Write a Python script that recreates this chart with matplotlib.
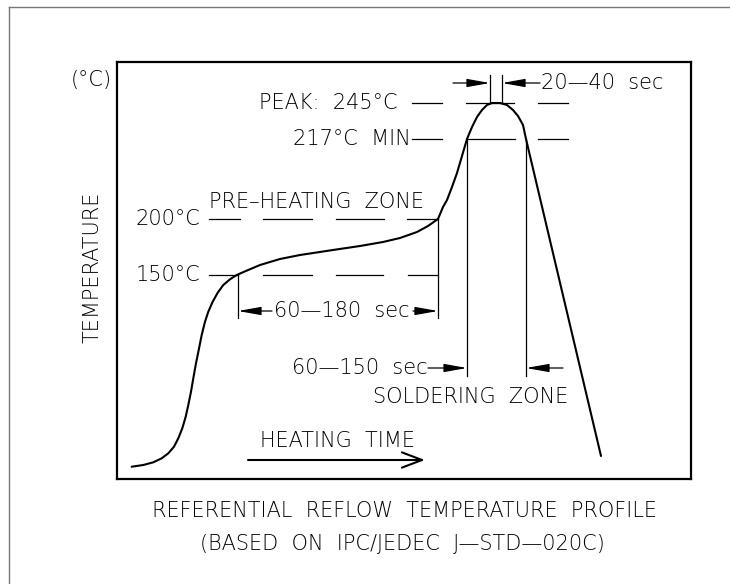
import numpy as np
import matplotlib.pyplot as plt
from matplotlib.lines import Line2D

plt.rcParams['font.family'] = ['DejaVu Sans']

# reflow profile (drawing units: x to the right, y downward)
curve_x = [131.7, 143.3, 153.3, 161.7, 168.3, 174, 178.3, 182.3, 185.7, 188.3,
           191, 193.3, 196, 198.7, 201.7, 205, 208.3, 212.7, 217.7, 223.3, 230,
           236.7, 247, 260, 280, 300, 333, 360, 383, 400, 417, 428, 438, 443,
           447, 452, 457, 462, 467, 472, 477, 482, 487, 492, 500, 507, 513, 518,
           523, 526, 601]
curve_y = [466.7, 465, 462.3, 458.3, 453.3, 446.7, 438.3, 428.3, 416.7, 405,
           391.7, 378.3, 363.3, 350, 335, 321.7, 311.7, 301.7, 292.7, 285, 279.3,
           275, 270.5, 265, 259, 255, 250, 246, 242, 238, 232, 226, 219, 207,
           200, 187, 173, 156, 139, 127, 117, 110, 105, 103, 103, 105, 110, 116,
           125, 139, 456]

# temperature levels and where they sit on the drawing
level_names = ['PEAK:  245°C', '217°C  MIN', '200°C', '150°C']
level_y = [103, 139, 219, 275]

caption = ['REFERENTIAL  REFLOW  TEMPERATURE  PROFILE',
           '(BASED  ON  IPC/JEDEC  J—STD—020C)']

fs = 15
fw = 'light'
lw_guide = 0.9

fig = plt.figure(figsize=(7.3, 5.84), dpi=100)
ax = fig.add_axes([117/730, (584-479)/584, 574/730, 417/584])
ax.set_xlim(117, 691)
ax.set_ylim(479, 62)
ax.set_xticks([])
ax.set_yticks([])
for s in ax.spines.values():
    s.set_linewidth(1.6)

# outer frame (only top and left are visible)
fig.add_artist(Line2D([9/730, 9/730], [0, 1-7/584], transform=fig.transFigure,
                      color='#777777', lw=1))
fig.add_artist(Line2D([9/730, 1], [1-7/584, 1-7/584], transform=fig.transFigure,
                      color='#777777', lw=1))

ax.plot(curve_x, curve_y, color='black', lw=1.5, solid_joinstyle='round',
        solid_capstyle='round')

# dashed level lines
dashes = {
    0: [(412, 442), (466, 514), (538, 568)],
    1: [(412, 442), (467, 515), (538, 568)],
    2: [(209, 240), (263, 312), (336, 384), (407, 438)],
    3: [(209, 238), (263, 312), (336, 383), (408, 438)],
}
for i, segs in dashes.items():
    for a, b in segs:
        ax.plot([a, b], [level_y[i], level_y[i]], color='black', lw=lw_guide)

# level labels
ax.text(398, level_y[0], level_names[0], fontsize=fs, fontweight=fw, ha='right', va='center')
ax.text(411, level_y[1], level_names[1], fontsize=fs, fontweight=fw, ha='right', va='center')
ax.text(200, level_y[2], level_names[2], fontsize=fs, fontweight=fw, ha='right', va='center')
ax.text(200, level_y[3], level_names[3], fontsize=fs, fontweight=fw, ha='right', va='center')
ax.text(209, 202, 'PRE–HEATING  ZONE', fontsize=fs, fontweight=fw, ha='left', va='center')

# vertical extension lines
vlines = [(238, level_y[3], 318), (438, level_y[2], 318),
          (467, level_y[1], 376), (526, level_y[1], 376),
          (490, 75, level_y[0]), (502, 75, level_y[0])]
for x, y0, y1 in vlines:
    ax.plot([x, x], [y0, y1], color='black', lw=lw_guide)


def dim_arrow(x0, y0, x1, y1):
    ax.annotate('', xy=(x1, y1), xytext=(x0, y0),
                arrowprops=dict(arrowstyle='-|>,head_length=1.4,head_width=0.25',
                                mutation_scale=10, color='black', lw=lw_guide,
                                shrinkA=0, shrinkB=0))


# 60-180 sec
dim_arrow(272, 311, 238, 311)
dim_arrow(413, 311, 438, 311)
ax.text(342, 311, '60—180  sec', fontsize=fs, fontweight=fw, ha='center', va='center')
# 60-150 sec
dim_arrow(428, 368, 467, 368)
dim_arrow(563, 368, 526, 368)
ax.text(428, 368, '60—150  sec', fontsize=fs, fontweight=fw, ha='right', va='center')
ax.text(568, 397, 'SOLDERING  ZONE', fontsize=fs, fontweight=fw, ha='right', va='center')
# 20-40 sec
dim_arrow(453, 83, 490, 83)
dim_arrow(540, 83, 502, 83)
ax.text(541, 83, '20—40  sec', fontsize=fs, fontweight=fw, ha='left', va='center')

# heating time arrow
ax.text(337, 441, 'HEATING  TIME', fontsize=fs, fontweight=fw, ha='center', va='center')
ax.annotate('', xy=(425, 460), xytext=(248, 460),
            arrowprops=dict(arrowstyle='->,head_length=1.45,head_width=0.55',
                            mutation_scale=10, color='black', lw=1.5,
                            shrinkA=0, shrinkB=0))

# axis labels outside the box
ax.text(112, 80, '(°C)', fontsize=fs, fontweight=fw, ha='right', va='center', clip_on=False)
ax.text(93, 267, 'TEMPERATURE', fontsize=fs, fontweight=fw, rotation=90, ha='center',
        va='center', clip_on=False)

ax.text(404, 511, caption[0], fontsize=fs, fontweight=fw, ha='center', va='center',
        clip_on=False)
ax.text(402, 544, caption[1], fontsize=fs, fontweight=fw, ha='center', va='center',
        clip_on=False)

fig.savefig('out.png', dpi=100)
